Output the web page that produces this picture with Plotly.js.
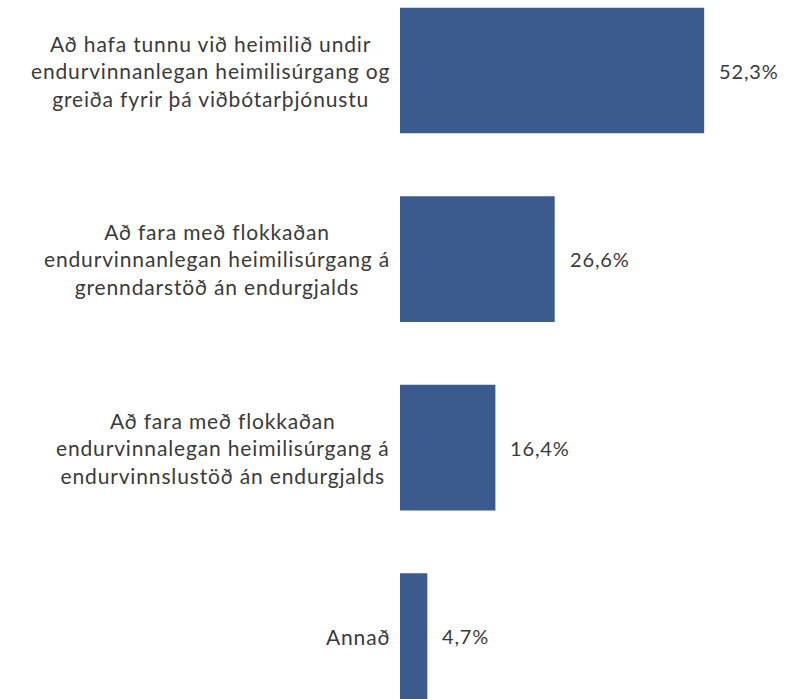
<!DOCTYPE html>
<html>
<head>
<meta charset="utf-8">
<script src="https://cdn.plot.ly/plotly-3.0.1.min.js"></script>
<style>html,body{margin:0;padding:0;background:#fff;}#chart{width:785px;height:699px;}
text.annotation-text{letter-spacing:0.85px;}</style>
</head>
<body>
<div id="chart"></div>
<script>
const categories = [
  "Að hafa tunnu við heimilið undir<br>endurvinnanlegan heimilisúrgang og<br>greiða fyrir þá viðbótarþjónustu",
  "Að fara með flokkaðan<br>endurvinnanlegan heimilisúrgang á<br>grenndarstöð án endurgjalds",
  "Að fara með flokkaðan<br>endurvinnalegan heimilisúrgang á<br>endurvinnslustöð án endurgjalds",
  "Annað"
];
const values = [52.3, 26.6, 16.4, 4.7];
const valueLabels = values.map(v => v.toFixed(1).replace('.', ',') + '%');

const FONT = "Lato, 'Open Sans', sans-serif";
const TEXTCOL = "#3a3a3a";

const annotations = [];
categories.forEach((c, i) => {
  annotations.push({
    xref: 'paper', yref: 'y', x: 0, y: i, text: c,
    xanchor: 'right', yanchor: 'middle', align: 'center', xshift: -8,
    showarrow: false, font: {family: FONT, size: 21, color: TEXTCOL}
  });
  annotations.push({
    xref: 'x', yref: 'y', x: values[i], y: i, text: valueLabels[i],
    xanchor: 'left', yanchor: 'middle', xshift: 13,
    showarrow: false, font: {family: FONT, size: 20, color: TEXTCOL}
  });
});

const trace = {
  type: 'bar', orientation: 'h',
  x: values, y: [0, 1, 2, 3],
  marker: {color: '#3B5B8E'},
  width: 0.667,
  hoverinfo: 'none'
};

const layout = {
  width: 785, height: 699,
  margin: {l: 400, r: 0, t: 0, b: 0},
  paper_bgcolor: '#ffffff', plot_bgcolor: '#ffffff',
  xaxis: {range: [0, 66.2], showgrid: false, zeroline: false, showticklabels: false, showline: false, ticks: ''},
  yaxis: {range: [3.334, -0.374], showgrid: false, zeroline: false, showticklabels: false, showline: false, ticks: ''},
  showlegend: false,
  annotations: annotations
};

Plotly.newPlot('chart', [trace], layout, {displayModeBar: false, staticPlot: true});
</script>
</body>
</html>
